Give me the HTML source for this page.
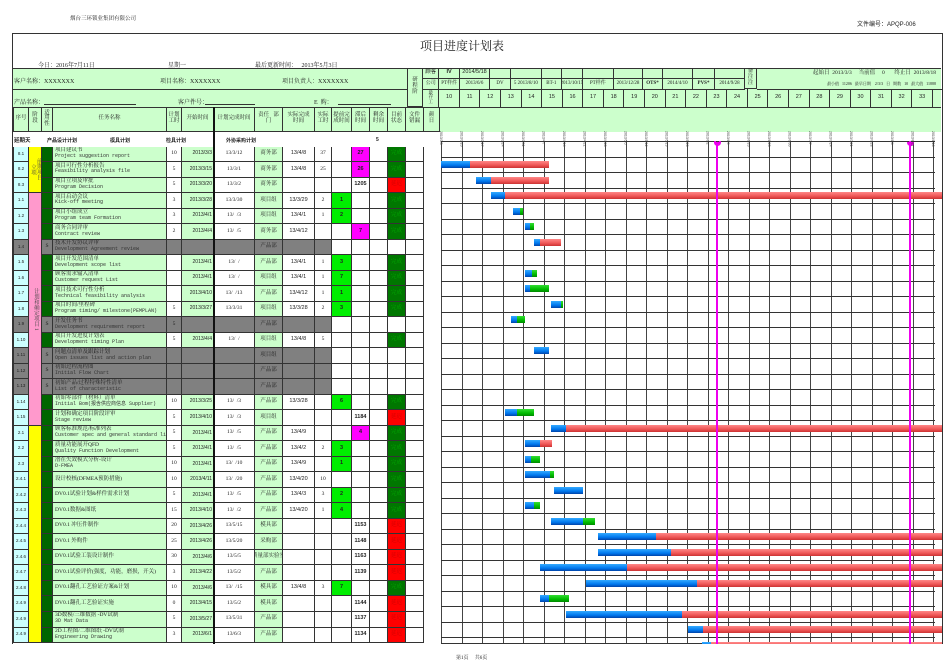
<!DOCTYPE html>
<html><head><meta charset="utf-8">
<style>
*{margin:0;padding:0;box-sizing:border-box}
body{width:950px;height:672px;background:#fff;position:relative;overflow:hidden;font-family:"Liberation Serif","Noto Serif CJK SC",serif;color:#222}
.a{position:absolute}
.c{position:absolute;border-right:1px solid #333;border-bottom:1px solid #333;font-size:5.5px;display:flex;align-items:center;justify-content:center;text-align:center;line-height:1.05;overflow:hidden;white-space:nowrap}
.b{font-family:"Liberation Sans","Noto Sans CJK SC",sans-serif;font-weight:bold}
.t{font-size:6px;white-space:nowrap}
.bar{position:absolute;height:7px}
.bl{background:linear-gradient(#33aaff,#0077ee 60%,#0044aa)}
.rd{background:linear-gradient(#ff8888,#ee5555 60%,#cc3333)}
.gr{background:linear-gradient(#33dd33,#00bb00 60%,#008800)}
.hl{position:absolute;left:0;width:494px;height:1px;background:#333}
.vl{position:absolute;top:0;width:1px;height:503px;background:#444}
</style></head><body>
<div class="a t" style="left:70px;top:14px;font-size:5.5px">烟台三环锁业集团有限公司</div>
<div class="a t" style="left:857px;top:19px;font-size:6px;font-family:'Liberation Sans','Noto Sans CJK SC',sans-serif">文件编号：APQP-006</div>
<div class="a" style="left:12px;top:33px;width:931px;height:611px;border:1.5px solid #333;border-bottom:none"></div>
<div class="a" style="left:420px;top:37px;font-size:12px;font-family:'Liberation Serif','Noto Serif CJK SC',serif">项目进度计划表</div>
<div class="a t" style="left:38px;top:60px">今日：<u>2016年7月11日</u></div>
<div class="a t" style="left:168px;top:60px"><u>星期一</u></div>
<div class="a t" style="left:255px;top:60px">最后更新时间： &nbsp; <u>2013年5月3日</u></div>
<div class="a" style="left:13px;top:68px;width:928px;height:64px;background:#ccffcc;border-top:1px solid #333"></div>
<div class="a" style="left:13px;top:89px;width:394px;height:1px;background:#333"></div>
<div class="a" style="left:13px;top:107px;width:928px;height:1px;background:#333"></div>
<div class="a t" style="left:14px;top:76px">客户名称：XXXXXXX</div>
<div class="a t" style="left:160px;top:76px">项目名称：XXXXXXX</div>
<div class="a t" style="left:282px;top:76px">项目负责人：XXXXXXX</div>
<div class="a t" style="left:14px;top:97px">产品名称：</div>
<div class="a" style="left:44px;top:104px;width:92px;height:1px;background:#333"></div>
<div class="a t" style="left:178px;top:97px">客户件号：</div>
<div class="a" style="left:205px;top:104px;width:50px;height:1px;background:#333"></div>
<div class="a t" style="left:314px;top:97px">E &nbsp;购：</div>
<div class="a" style="left:338px;top:104px;width:53px;height:1px;background:#333"></div>
<div id="hdr"></div>
<div id="tbl"></div>
<div class="a" id="grid" style="left:441px;top:141px;width:494px;height:503px"></div>
<div id="gantt" class="a" style="left:441px;top:141px;width:501px;height:503px;overflow:hidden"></div>
<div id="ticks"></div>
<div class="a" style="left:213px;top:107px;width:2px;height:537px;background:#111"></div>
<div class="a t" style="left:456px;top:654px;font-size:5px">第1页 &nbsp; &nbsp; 共6页</div>
<script>
var H='';
function d(x,y,w,h,bg,txt,cls,st){H+='<div class="c '+(cls||'')+'" style="left:'+x+'px;top:'+y+'px;width:'+w+'px;height:'+h+'px;background:'+(bg||'transparent')+';'+(st||'')+'">'+(txt||'')+'</div>';}
d(406.7,68,16.6,39,'','研<br>程<br>阶','', 'border-left:1px solid #333');
var mb=[423.3,439.3,460,490,511,541.7,562,582.7,614,643,663,693,715,745,757];
var top1=['顾客','<b>IV</b>','2014/5/18','','','','','','','','','',''];
var bot1=['公司','PT样件','2013/6/6','DV','5 2013/8/10','BT-1','2013/10/15','PT样件','2013/12/28','<b>OTS*</b>','2014/4/10','<b>PVS*</b>','2014/9/28'];
for(var i=0;i<13;i++){d(mb[i],68,mb[i+1]-mb[i],11,'',top1[i],'b','font-weight:normal');d(mb[i],79,mb[i+1]-mb[i],10.5,'',bot1[i],'','font-size:5px');}
d(745,68,12,21,'','备<br>注<br>注');
d(757,68,185,11,'','起始日 &nbsp;2013/3/3 &nbsp; &nbsp; 当前值 &nbsp; &nbsp; 0 &nbsp; &nbsp; &nbsp; 终止日 &nbsp;2013/8/18','','border-right:none;justify-content:flex-end;padding-right:6px;border-bottom:none');
d(757,79,185,10.5,'','最小值 &nbsp; 11206 &nbsp; 最早日期 &nbsp; &nbsp;2/3/3 &nbsp; 日 &nbsp; 期数 &nbsp; 10 &nbsp; 最大值 &nbsp; 11888','','font-size:4px;border-right:none;justify-content:flex-end;padding-right:6px');
d(423.3,89,16,18.5,'','最<br>存<br>工','','font-size:4.5px');
for(var k=0;k<24;k++){d(439.3+k*20.57,89,20.57,18.5,'',''+(10+k),'b','font-weight:normal;font-size:5.5px;font-family:Liberation Sans,sans-serif');}
var cols=[13,29,42,53,167,182,214,255,283,315,332,352,370,388,406,424,440];
var hn=['序号','阶<br>段','适<br>用<br>性','任务名称','计划<br>工时','开始时间','计划完成时间','责任 &nbsp; 部<br>门','实际完成<br>时间','实际<br>工时','提前完<br>成时间','滞后<br>时间','剩余<br>时间','目前<br>状态','文件<br>错漏','颜<br>日'];
for(var i=0;i<16;i++)d(cols[i],107.7,cols[i+1]-cols[i],24,'',hn[i],'',i==0?'border-left:1px solid #333':'');
document.getElementById('hdr').innerHTML=H;H='';
H+='<div class="a b" style="left:14px;top:136px;font-size:5.5px">延期天</div><div class="a b" style="left:47px;top:137px;font-size:5px">产品设计计划</div><div class="a b" style="left:110px;top:137px;font-size:5px">模具计划</div><div class="a b" style="left:166px;top:137px;font-size:5px">检具计划</div><div class="a b" style="left:226px;top:137px;font-size:5px">外协采购计划</div><div class="a b" style="left:376px;top:137px;font-size:5px">5</div>';
var R=[
['8.1',0,'项目建议书','Project suggestion report','10','2013/3/3','13/3/12','商务部','13/4/8','37','','27m','','完成'],
['8.2',0,'项目可行性分析报告','Feasibility analysis file','5','2013/3/15','13/3/1','商务部','13/4/8','25','','26m','','完成'],
['8.3',0,'项目立项及审批','Program Decision','5','2013/3/20','13/3/2','商务部','','','','1205','','延迟'],
['1.1',0,'项目启动会议','Kick-off meeting','3','2013/3/28','13/3/30','项目组','13/3/29','2','1','','','完成'],
['1.2',0,'项目小组成立','Program team Formation','3','2013/4/1','13/ &nbsp;/3','项目组','13/4/1','1','2','','','完成'],
['1.3',0,'商务合同评审','Contract review','2','2013/4/4','13/ &nbsp;/5','商务部','13/4/12','','','7m','','完成'],
['1.4',1,'技术开发协议评审','Development Agreement review','','','','产品部','','','','','',''],
['1.5',0,'项目开发范围清单','Development scope list','','2013/4/1','13/ &nbsp;/','产品部','13/4/1','1','3','','','完成'],
['1.6',0,'顾客需求输入清单','Customer request List','','2013/4/1','13/ &nbsp;/','项目组','13/4/1','1','7','','','完成'],
['1.7',0,'项目技术可行性分析','Technical feasibility analysis','','2013/4/10','13/ &nbsp;/13','产品部','13/4/12','1','1','','','完成'],
['1.8',0,'项目时间/里程碑','Program timing/ milestone(PEMPLAN)','5','2013/3/27','13/3/31','项目组','13/3/28','2','3','','','完成'],
['1.9',1,'开发任务书','Development requirement report','5','','','产品部','','','','','',''],
['1.10',0,'项目开发进度计划表','Development timing Plan','5','2013/4/4','13/ &nbsp;/','项目组','13/4/8','5','','','','完成'],
['1.11',1,'问题点清单及跟踪计划','Open issues list and action plan','','','','项目组','','','','','',''],
['1.12',1,'初始过程流程图','Initial Flow Chart','','','','产品部','','','','','',''],
['1.13',1,'初始产品/过程特殊特性清单','List of characteristic','','','','产品部','','','','','',''],
['1.14',0,'初始零部件（材料）清单','Initial Bom(报含供应商信息 Supplier)','10','2013/3/25','13/ &nbsp;/3','产品部','13/3/28','','6','','','完成'],
['1.15',0,'计划和确定项目阶段评审','Stage review','5','2013/4/10','13/ &nbsp;/3','项目组','','','','1184','','延迟'],
['2.1',0,'顾客标准规范/标准列表','Customer spec and general standard list','5','2013/4/1','13/ &nbsp;/5','产品部','13/4/9','','','4m','','完成'],
['2.2',0,'质量功能展开QFD','Quality Function Development','5','2013/4/1','13/ &nbsp;/5','产品部','13/4/2','2','3','','','完成'],
['2.3',0,'潜在失效模式分析-设计','D-FMEA','10','2013/4/1','13/ &nbsp;/10','产品部','13/4/9','','1','','','完成'],
['2.4.1',0,'设计校核(DFMEA预防措施)','','10','2013/4/11','13/ &nbsp;/20','产品部','13/4/20','10','','','','完成'],
['2.4.2',0,'DV0.1试验计划&样件需求计划','','5','2013/4/1','13/ &nbsp;/5','产品部','13/4/3','3','2','','','完成'],
['2.4.3',0,'DV0.1数据&图纸','','15','2013/4/10','13/ &nbsp;/2','产品部','13/4/20','1','4','','','完成'],
['2.4.4',0,'DV0.1 冲压件制作','','20','2013/4/26','13/5/15','模具部','','','','1153','','延迟'],
['2.4.5',0,'DV0.1 外购件','','25','2013/4/26','13/5/20','采购部','','','','1148','','延迟'],
['2.4.6',0,'DV0.1试验工装设计制作','','30','2013/4/6','13/5/5','质量部实验室','','','','1163','','延迟'],
['2.4.7',0,'DV0.1试验评价(强度，功能，磨损，开关)','','3','2013/4/22','13/5/2','产品部','','','','1139','','延迟'],
['2.4.8',0,'DV0.1翻孔工艺验证方案&计划','','10','2013/4/6','13/ &nbsp;/15','模具部','13/4/8','3','7','','','完成'],
['2.4.9',0,'DV0.1翻孔工艺验证实施','','0','2013/4/15','13/5/2','模具部','','','','1144','','延迟'],
['2.4.9',0,'3D数模/三维数据 -DV试制','3D Mat Data','5','2013/5/27','13/5/31','产品部','','','','1137','','延迟'],
['2.4.9',0,'2D工程图/二维图纸 -DV试制','Engineering Drawing','3','2013/6/1','13/6/3','产品部','','','','1134','','延迟']];
var y0=146.7,rh=15.51;
for(var r=0;r<R.length;r++){var a=R[r],y=y0+r*rh,g=a[1];
 var G='#808080';
 d(13,y,16,rh,g?G:'#ccffff',a[0],'b','font-size:4.5px;font-weight:normal;border-left:1px solid #333');
 d(42,y,11,rh,g?G:'#006600',g?'S':'');
 d(53,y,114,rh,g?G:'#ccffcc','<div style="text-align:left;width:100%;padding-left:2px">'+a[2]+'<br><span style="font-family:Liberation Mono,monospace;font-size:5px;color:#333">'+a[3]+'</span></div>');
 d(167,y,15,rh,g?G:'#fff',a[4]);
 d(182,y,32,rh,g?G:'#ccffcc',a[5],'b','font-weight:normal;justify-content:flex-end;padding-right:1px;font-size:5px');
 d(214,y,41,rh,g?G:'#fff',a[6]);
 d(255,y,28,rh,g?G:'#ccffcc',a[7]);
 d(283,y,32,rh,g?G:'#fff',a[8],'b','font-weight:normal;font-size:5.5px');
 d(315,y,17,rh,g?G:'#fff',a[9]);
 d(332,y,20,rh,a[10]?'#00ee00':'#fff',a[10],'b');
 var m=a[11].indexOf('m')>0;
 d(352,y,18,rh,m?'#ff00ff':'#fff',a[11].replace('m',''),'b');
 d(370,y,18,rh,'#fff','');
 d(388,y,18,rh,a[13]=='完成'?'#007700':(a[13]?'#ff0000':'#fff'),a[13],'','color:'+(a[13]=='完成'?'#00aa00':'#cc0000'));
 d(406,y,18,rh,'#fff','');
}
d(29,y0,13,3*rh,'#ffff00','<div style="writing-mode:vertical-rl;font-size:5.5px;color:#444">前期项目<br>立项</div>');
d(29,y0+3*rh,13,15*rh,'#ff99cc','<div style="writing-mode:vertical-rl;font-size:5.5px;color:#444">计划和确定项目 1</div>');
d(29,y0+18*rh,13,14*rh,'#ffff00','');
document.getElementById('tbl').innerHTML=H;H='';
var Gd='';
for(var k=0;k<=24;k++)Gd+='<div class="vl" style="left:'+Math.round(k*20.5)+'px"></div>';
for(var k=0;k<=32;k++)Gd+='<div class="hl" style="top:'+Math.round(k*15.5)+'px"></div>';
Gd+='<div class="hl" style="top:502px"></div>';
document.getElementById('grid').innerHTML=Gd;
var S='';
var B=[[0,441,470,549,'r'],[1,476,491,549,'r'],[2,491,505,960,'r'],[3,513,520,523,'g'],[4,525,530,534,'g'],[5,534,540,561,'r'],[7,525,532,537,'g'],[8,525,530,549,'g'],[9,551,561,563,'g'],[10,511,517,525,'g'],[12,534,549,549,'g'],[16,505,517,534,'g'],[17,551,566,960,'r'],[18,525,540,552,'r'],[19,525,531,540,'g'],[20,525,550,554,'g'],[21,554,583,583,'g'],[22,525,534,540,'g'],[23,551,583,595,'g'],[24,598,656,960,'r'],[25,598,671,960,'r'],[26,540,627,960,'r'],[27,586,697,960,'r'],[28,540,549,569,'g'],[29,566,682,960,'r'],[30,688,703,960,'r'],[31,702,711,960,'r']];
for(var i=0;i<B.length;i++){var b=B[i],cy=164.5+15.5*b[0]-141-3.5;
 S+='<div class="bar bl" style="left:'+(b[1]-441)+'px;top:'+cy+'px;width:'+(b[2]-b[1])+'px"></div>';
 if(b[3]>b[2])S+='<div class="bar '+(b[4]=='r'?'rd':'gr')+'" style="left:'+(b[2]-441)+'px;top:'+cy+'px;width:'+(b[3]-b[2])+'px"></div>';}
S+='<div class="a" style="left:'+(717-441-1)+'px;top:1px;width:2px;height:503px;background:#ee00ee"></div>';
S+='<div class="a" style="left:'+(910-441-1)+'px;top:1px;width:2px;height:503px;background:#ee00ee"></div>';
S+='<div class="a" style="left:'+(717-441-3.5)+'px;top:-2px;width:7px;height:7px;border-radius:50%;background:#ee00ee"></div>';
S+='<div class="a" style="left:'+(910-441-3.5)+'px;top:-2px;width:7px;height:7px;border-radius:50%;background:#ee00ee"></div>';
document.getElementById('gantt').innerHTML=S;
var T='';var dts=['2013/3/3','2013/3/10','2013/3/17','2013/3/24','2013/3/31','2013/4/7','2013/4/14','2013/4/21','2013/4/28','2013/5/5','2013/5/12','2013/5/19','2013/5/26','2013/6/2','2013/6/9','2013/6/16','2013/6/23','2013/6/30','2013/7/7','2013/7/14','2013/7/21','2013/7/28','2013/8/4','2013/8/11','2013/8/18'];
for(var k=0;k<=24;k++)T+='<div class="a" style="left:'+(441+k*20.5-2)+'px;top:131px;font-size:3.5px;writing-mode:vertical-rl;color:#444;font-family:Liberation Sans,sans-serif">'+dts[k]+'</div>';
T+='<div class="a" style="left:441px;top:141px;width:493px;height:1px;border-top:1px dashed #333"></div>';
document.getElementById('ticks').innerHTML=T;
</script>
</body></html>
